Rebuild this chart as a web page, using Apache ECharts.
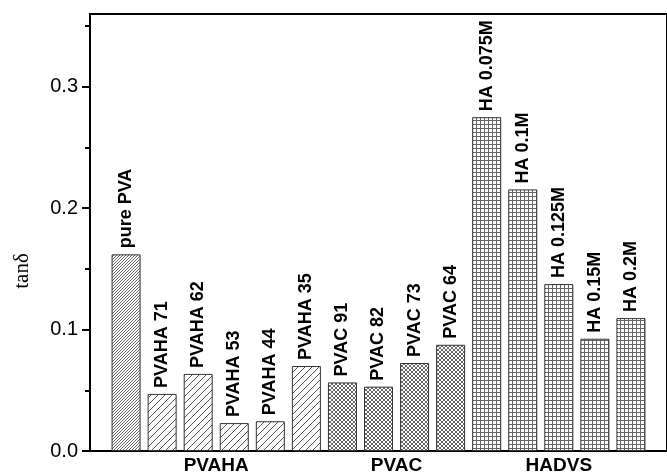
<!DOCTYPE html>
<html>
<head>
<meta charset="utf-8">
<script src="https://cdn.jsdelivr.net/npm/echarts@6/dist/echarts.min.js"></script>
<style>
  html, body { margin: 0; padding: 0; background: #fff; }
  #chart { width: 667px; height: 475px; }
</style>
</head>
<body>
<div id="chart"></div>
<script>
// Sample names, one per bar
const sampleNames = ['pure PVA', 'PVAHA 71', 'PVAHA 62', 'PVAHA 53', 'PVAHA 44', 'PVAHA 35',
  'PVAC 91', 'PVAC 82', 'PVAC 73', 'PVAC 64',
  'HA 0.075M', 'HA 0.1M', 'HA 0.125M', 'HA 0.15M', 'HA 0.2M'];
// Loss tangent (tanδ) of each sample
const tanDelta = [0.162, 0.047, 0.0635, 0.023, 0.0245, 0.070,
  0.0565, 0.053, 0.0725, 0.0875,
  0.275, 0.2155, 0.1375, 0.0925, 0.1095];
// Fill family of each sample
const sampleKinds = ['pva', 'pvaha', 'pvaha', 'pvaha', 'pvaha', 'pvaha',
  'pvac', 'pvac', 'pvac', 'pvac',
  'hadvs', 'hadvs', 'hadvs', 'hadvs', 'hadvs'];
// Group captions under the axis and the slot each is centred on
const groupNames = ['PVAHA', 'PVAC', 'HADVS'];
const groupCentres = [3.5, 8.5, 13];
// Y axis ticks
const majorTicks = [0, 0.1, 0.2, 0.3];
const minorTicks = [0.05, 0.15, 0.25, 0.35];

// Hatch tiles
function makeTile(size, stroke, draw) {
  const c = document.createElement('canvas');
  c.width = size; c.height = size;
  const g = c.getContext('2d');
  g.fillStyle = '#fff';
  g.fillRect(0, 0, size, size);
  g.strokeStyle = stroke;
  g.lineWidth = 1;
  draw(g, size);
  return { image: c, repeat: 'repeat' };
}
function slash(g, s) {
  g.beginPath();
  g.moveTo(-1, s + 1); g.lineTo(s + 1, -1);
  g.moveTo(-1, 1); g.lineTo(1, -1);
  g.moveTo(s - 1, s + 1); g.lineTo(s + 1, s - 1);
  g.stroke();
}
function backslash(g, s) {
  g.beginPath();
  g.moveTo(-1, -1); g.lineTo(s + 1, s + 1);
  g.moveTo(s - 1, -1); g.lineTo(s + 1, 1);
  g.moveTo(-1, s - 1); g.lineTo(1, s + 1);
  g.stroke();
}
function squares(g, s) {
  g.beginPath();
  g.moveTo(0, 0.5); g.lineTo(s, 0.5);
  g.moveTo(0.5, 0); g.lineTo(0.5, s);
  g.stroke();
}
const fills = {
  pva: makeTile(3, '#666', slash),
  pvaha: makeTile(7, '#555', slash),
  pvac: makeTile(4, '#666', (g, s) => { slash(g, s); backslash(g, s); }),
  hadvs: makeTile(4, '#666', squares)
};

// One empty slot before the first bar and after the last one
const categories = [''].concat(sampleNames, ['']);
const barData = ['-'].concat(tanDelta.map((v, i) => ({
  value: v,
  itemStyle: { color: fills[sampleKinds[i]] }
})), ['-']);

const chart = echarts.init(document.getElementById('chart'), null, { renderer: 'canvas' });
chart.setOption({
  backgroundColor: '#fff',
  animation: false,
  grid: {
    left: 90, top: 14, width: 586, bottom: 23,
    show: true, borderColor: '#000', borderWidth: 2, backgroundColor: 'transparent'
  },
  xAxis: [
    {
      type: 'category',
      data: categories,
      boundaryGap: false,
      axisLine: { lineStyle: { color: '#000', width: 2 } },
      axisTick: { show: false },
      axisLabel: { show: false },
      splitLine: { show: false }
    },
    {
      type: 'value',
      min: 0, max: 16,
      position: 'bottom',
      axisLine: { show: false },
      axisTick: { show: false },
      splitLine: { show: false },
      axisLabel: {
        customValues: groupCentres,
        formatter: v => groupNames[groupCentres.indexOf(v)],
        fontFamily: 'Liberation Sans',
        fontWeight: 'bold',
        fontSize: 19,
        color: '#000',
        margin: 5
      }
    }
  ],
  yAxis: [
    {
      type: 'value',
      min: 0, max: 0.36,
      axisLine: { show: true, lineStyle: { color: '#000', width: 2 } },
      axisTick: { show: true, customValues: majorTicks, length: 8, lineStyle: { color: '#000', width: 2 } },
      axisLabel: {
        customValues: majorTicks,
        formatter: v => v.toFixed(1),
        fontFamily: 'Liberation Sans',
        fontSize: 20,
        color: '#000',
        margin: 12
      },
      splitLine: { show: false }
    },
    {
      type: 'value',
      min: 0, max: 0.36,
      position: 'left',
      axisLine: { show: false },
      axisTick: { show: true, customValues: minorTicks, length: 5, lineStyle: { color: '#000', width: 2 } },
      axisLabel: { show: false },
      splitLine: { show: false }
    }
  ],
  graphic: [
    {
      type: 'text',
      x: 22, y: 271,
      rotation: Math.PI / 2,
      style: {
        text: 'tanδ',
        font: '21px "Liberation Serif"',
        fill: '#000',
        textAlign: 'center',
        textVerticalAlign: 'middle'
      }
    }
  ],
  series: [
    {
      type: 'bar',
      xAxisIndex: 0,
      yAxisIndex: 0,
      data: barData,
      barWidth: 29,
      itemStyle: { borderColor: '#333', borderWidth: 1 },
      label: {
        show: true,
        position: 'top',
        rotate: 90,
        align: 'left',
        verticalAlign: 'middle',
        distance: 6,
        formatter: '{b}',
        fontFamily: 'Liberation Sans',
        fontWeight: 'bold',
        fontSize: 18,
        color: '#000'
      }
    }
  ]
});
</script>
</body>
</html>
